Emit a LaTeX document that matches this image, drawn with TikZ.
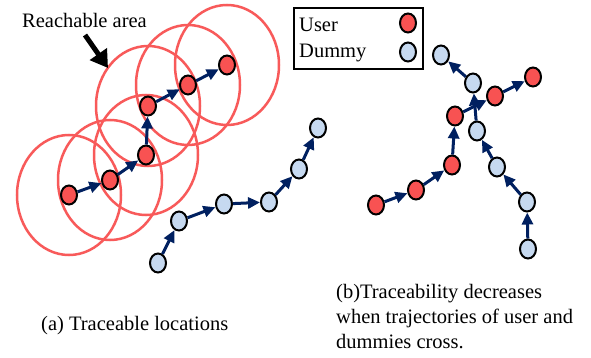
\documentclass[tikz,border=0pt]{standalone}
\usepackage{fontspec}
\setmainfont{Liberation Serif}
\usetikzlibrary{shapes.geometric,arrows.meta,backgrounds}
\definecolor{userred}{RGB}{248,82,82}
\definecolor{dummyblue}{RGB}{198,217,240}
\definecolor{navy}{RGB}{0,32,96}
\definecolor{reachred}{RGB}{248,90,90}
\begin{document}
\begin{tikzpicture}[x=1pt,y=-1pt,
  loc/.style={ellipse, draw=black, line width=2pt, minimum width=16pt, minimum height=19pt, inner sep=0pt},
  user/.style={loc, fill=userred},
  dummy/.style={loc, fill=dummyblue},
  traj/.style={draw=navy, line width=3pt, -{Triangle[length=12pt,width=11pt]}},
  reach/.style={draw=reachred, line width=2.5pt},
  bigarrow/.style={draw=black, line width=5pt, -{Triangle[length=17pt,width=20pt]}},
  lbl/.style={font=\rmfamily\fontsize{20.5}{25}\selectfont, inner sep=0pt}]
\useasboundingbox (0,0) rectangle (591,358);

% (a) user trajectory
\node[user] (u1) at (69,195) {};
\node[user] (u2) at (110,180) {};
\node[user] (u3) at (146,155) {};
\node[user] (u4) at (148,106) {};
\node[user] (u5) at (188,85) {};
\node[user] (u6) at (227,65) {};
\begin{pgfonlayer}{background}
\fill[white] (0,0) rectangle (591,358);
\foreach \n in {u1,u2,u3,u4,u5,u6}
  \draw[reach] (\n.center) ellipse [x radius=52pt, y radius=60pt];
\end{pgfonlayer}
\draw[traj] (u1) -- (u2);
\draw[traj] (u2) -- (u3);
\draw[traj] (u3) -- (u4);
\draw[traj] (u4) -- (u5);
\draw[traj] (u5) -- (u6);

% (a) dummy trajectory
\node[dummy] (d1) at (158,263) {};
\node[dummy] (d2) at (179,221) {};
\node[dummy] (d3) at (224,204) {};
\node[dummy] (d4) at (269,202) {};
\node[dummy] (d5) at (299,169) {};
\node[dummy] (d6) at (318,128) {};
\draw[traj] (d1) -- (d2);
\draw[traj] (d2) -- (d3);
\draw[traj] (d3) -- (d4);
\draw[traj] (d4) -- (d5);
\draw[traj] (d5) -- (d6);

% Reachable area label
\node[lbl, anchor=base west] (reachlbl) at (22,27.5) {Reachable area};
\coordinate (ra) at (85,35);
\coordinate (rb) at (108,68);
\draw[bigarrow] (ra) -- (rb);

% legend
\node[draw=black, line width=2pt, minimum width=129pt, minimum height=61pt, anchor=north west, inner sep=0pt] (legend) at (293,7) {};
\node[lbl, anchor=base west] (luser) at (299,32) {User};
\node[lbl, anchor=base west] (ldummy) at (299,57.5) {Dummy};
\node[user] (lu) at (408,23) {};
\node[dummy] (ld) at (408,52) {};

% (b) user trajectory
\node[user] (b1) at (376,205) {};
\node[user] (b2) at (416,190) {};
\node[user] (b3) at (452,165) {};
\node[user] (b4) at (455,116) {};
\node[user] (b5) at (495,96) {};
\node[user] (b6) at (533,77) {};
% (b) dummy trajectory
\node[dummy] (e1) at (528,249) {};
\node[dummy] (e2) at (527,202) {};
\node[dummy] (e3) at (497,167) {};
\node[dummy] (e4) at (477,131) {};
\node[dummy] (e5) at (473,83) {};
\node[dummy] (e6) at (441,55) {};
\draw[traj] (b1) -- (b2);
\draw[traj] (b2) -- (b3);
\draw[traj] (b3) -- (b4);
\draw[traj] (e1) -- (e2);
\draw[traj] (e2) -- (e3);
\draw[traj] (e3) -- (e4);
\draw[traj] (e4) -- (e5);
\draw[traj] (b4) -- (b5);
\draw[traj] (b5) -- (b6);
\draw[traj] (e5) -- (e6);

% captions
\node[lbl, anchor=base west] (capa) at (41,330) {(a) Traceable locations};
\node[lbl, anchor=north west, align=left] (capb) at (336,284) {(b)Traceability decreases\\when trajectories of user and\\dummies cross.};
\end{tikzpicture}
\end{document}
